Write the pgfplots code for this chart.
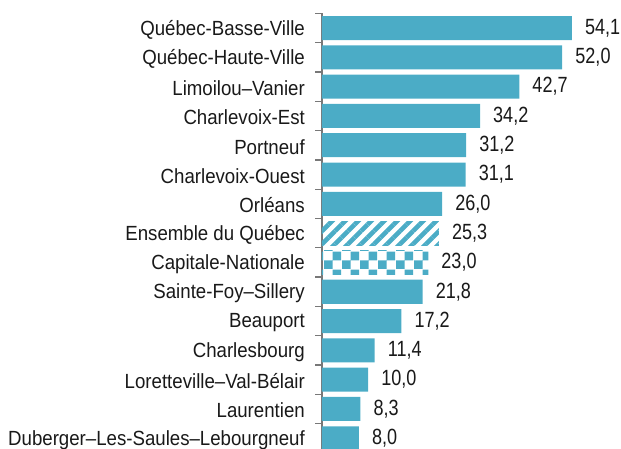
\documentclass[border=0pt]{standalone}
\usepackage{pgfplots}
\pgfplotsset{compat=1.18}
\usetikzlibrary{patterns.meta}
\usepackage{fontspec}
\setmainfont{Liberation Sans}
\newfontfamily\catfont[FakeStretch=0.91]{Liberation Sans}
\newfontfamily\valfont[FakeStretch=0.82]{Liberation Sans}
\definecolor{barc}{RGB}{75,172,198}
\definecolor{axc}{RGB}{120,120,120}
\definecolor{txt}{RGB}{25,25,25}
\tikzdeclarepattern{
  name=checker,
  type=uncolored,
  bounding box={(0,0) and (18pt,18pt)},
  tile size={(18pt,18pt)},
  code={
    \pgfpathrectangle{\pgfpointorigin}{\pgfpoint{9pt}{9pt}}
    \pgfpathrectangle{\pgfpoint{9pt}{9pt}}{\pgfpoint{9pt}{9pt}}
    \pgfusepath{fill}
  }
}
\begin{document}
\begin{tikzpicture}
\useasboundingbox (0,0) rectangle (621pt,449pt);
\begin{axis}[
  at={(322pt,435.6pt)}, anchor=north west,
  scale only axis,
  width=277.2pt, height=439.5pt,
  xbar, bar width=24pt, bar shift=0pt,
  xmin=0, xmax=60,
  ymin=-0.5, ymax=14.5,
  y dir=reverse,
  hide x axis,
  axis y line=left,
  y axis line style={-, draw=axc, line width=1.2pt},
  major tick length=0pt,
  ytick={0,...,14},
  yticklabels={Québec-Basse-Ville,Québec-Haute-Ville,Limoilou–Vanier,Charlevoix-Est,Portneuf,Charlevoix-Ouest,Orléans,Ensemble du Québec,Capitale-Nationale,Sainte-Foy–Sillery,Beauport,Charlesbourg,Loretteville–Val-Bélair,Laurentien,Duberger–Les-Saules–Lebourgneuf},
  yticklabel style={font=\catfont\fontsize{20.5}{24}\selectfont, text=txt, anchor=east, inner sep=0pt, xshift=-17pt, yshift=-1.5pt},
  nodes near coords,
  nodes near coords style={font=\valfont\fontsize{22}{26}\selectfont, text=txt, anchor=west, inner xsep=0pt, xshift=13pt,
    /pgf/number format/.cd, use comma, fixed, fixed zerofill, precision=1, assume math mode=true},
  clip=false,
]
\addplot[fill=barc, draw=none] coordinates {
  (54.1,0) (52.0,1) (42.7,2) (34.2,3) (31.2,4) (31.1,5) (26.0,6)
  (21.8,9) (17.2,10) (11.4,11) (10.0,12) (8.3,13) (8.0,14)
};
\addplot[draw=none, pattern={Lines[angle=45,distance=9.2pt,line width=4.6pt]}, pattern color=barc] coordinates {(25.3,7)};
\addplot[draw=none, pattern=checker, pattern color=barc] coordinates {(23.0,8)};
\pgfplotsinvokeforeach{-0.5,0.5,1.5,2.5,3.5,4.5,5.5,6.5,7.5,8.5,9.5,10.5,11.5,12.5,13.5}{
  \draw[axc, line width=1.3pt] (axis cs:0,#1) -- ++(-7pt,0pt);
}
\end{axis}
\end{tikzpicture}
\end{document}
